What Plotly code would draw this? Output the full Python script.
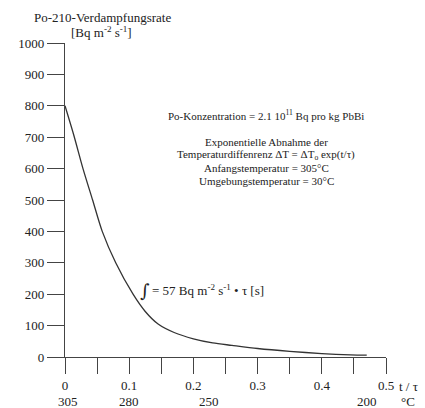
import plotly.graph_objects as go

# ---- data ----
t_over_tau = [0.0, 0.0146, 0.028, 0.043, 0.058, 0.079, 0.106, 0.125, 0.145, 0.17, 0.20,
              0.23, 0.26, 0.30, 0.35, 0.40, 0.445, 0.47]
rate = [800, 700, 600, 500, 400, 300, 200, 145, 105, 78, 58, 45, 37, 27, 18, 11, 7, 6]

x_ticks = [0, 0.05, 0.1, 0.15, 0.2, 0.25, 0.3, 0.35, 0.4, 0.45, 0.5]
x_ticktext = ["0", "", "0.1", "", "0.2", "", "0.3", "", "0.4", "", "0.5"]
y_ticks = [0, 100, 200, 300, 400, 500, 600, 700, 800, 900, 1000]

temp_t = [0.005, 0.1, 0.225, 0.47]
temp_labels = ["305", "280", "250", "200"]

FONT = "Liberation Serif, Times New Roman, serif"
INK = "#222222"
LINE = "#444444"

fig = go.Figure()
fig.add_trace(go.Scatter(
    x=t_over_tau, y=rate, mode="lines",
    line=dict(color="#333333", width=1.3, shape="spline", smoothing=0.8),
    showlegend=False, hoverinfo="skip",
))

W, H = 425, 408
L, R, T, B = 65, 39, 43, 51
pw, ph = W - L - R, H - T - B


def px(x):
    return (x - L) / pw


def py(y):
    return (H - B - y) / ph


annotations = []
# temperature row beneath the t/tau labels
for tt, lab in zip(temp_t, temp_labels):
    annotations.append(dict(x=tt, y=py(401), xref="x", yref="paper", text=lab,
                            showarrow=False, xanchor="center", yanchor="middle",
                            font=dict(family=FONT, size=13, color=INK)))

texts = [
    ("t / τ", 409, 386, 13, "center"),
    ("°C", 408, 401, 13, "center"),
    ("Po-210-Verdampfungsrate", 102, 17, 13, "center"),
    ("[Bq m<sup>-2</sup> s<sup>-1</sup>]", 101, 32, 13, "center"),
    ("Po-Konzentration = 2.1 10<sup>11</sup> Bq pro kg PbBi", 266, 115, 11, "center"),
    ("Exponentielle Abnahme der", 266, 141.5, 11, "center"),
    ("Temperaturdiffenrenz ΔT = ΔT<sub>o</sub> exp(t/τ)", 266, 154.5, 11, "center"),
    ("Anfangstemperatur = 305°C", 266, 167.5, 11, "center"),
    ("Umgebungstemperatur = 30°C", 266, 180.5, 11, "center"),
    ("= 57 Bq m<sup>-2</sup> s<sup>-1</sup> • τ [s]", 150, 290, 13, "left"),
]
for txt, x, y, size, anchor in texts:
    annotations.append(dict(x=px(x), y=py(y), xref="paper", yref="paper", text=txt,
                            showarrow=False, xanchor=anchor, yanchor="middle",
                            font=dict(family=FONT, size=size, color=INK)))
annotations.append(dict(x=px(144.5), y=py(290), xref="paper", yref="paper", text="∫",
                        showarrow=False, xanchor="center", yanchor="middle",
                        font=dict(family="DejaVu Serif", size=18, color=INK)))

fig.update_layout(
    width=W, height=H,
    margin=dict(l=L, r=R, t=T, b=B, pad=0),
    paper_bgcolor="white", plot_bgcolor="white",
    font=dict(family=FONT, size=13, color=INK),
    xaxis=dict(range=[0, 0.5], tickvals=x_ticks, ticktext=x_ticktext,
               showline=True, linecolor=LINE, linewidth=1.3,
               ticks="outside", ticklen=16, tickwidth=1.3, tickcolor=LINE,
               showgrid=False, zeroline=False, fixedrange=True,
               tickfont=dict(family=FONT, size=13, color=INK)),
    yaxis=dict(range=[0, 1000], tickvals=y_ticks,
               showline=True, linecolor=LINE, linewidth=1.3,
               ticks="outside", ticklen=17, tickwidth=1.3, tickcolor=LINE,
               showgrid=False, zeroline=False, fixedrange=True,
               tickfont=dict(family=FONT, size=13, color=INK)),
    annotations=annotations,
)

fig.write_html("out.html", config={"displayModeBar": False},
               post_script="document.body.style.margin='0';document.body.style.overflow='hidden';")
